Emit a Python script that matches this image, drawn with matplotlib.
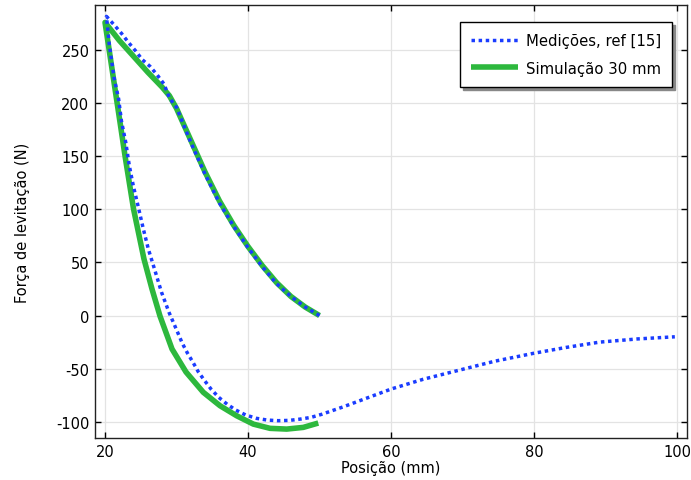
import matplotlib
matplotlib.use("Agg")
import matplotlib.pyplot as plt

plt.rcParams["axes.unicode_minus"] = False

# Measurements (ref [15]) – upper branch from 50 mm back to 20 mm, then lower branch out to 100 mm
meas_x = [50, 48, 46, 44, 42, 40, 38, 36, 34, 32, 30, 29, 28.25, 27.3, 26.3, 25.2, 24.3, 23.3, 22.3, 21.3, 20.2,
          20.6, 21.26, 21.9, 22.3, 22.9, 23.4, 23.96, 24.66, 25.36, 26.06, 27.0, 27.9, 28.95, 30.2,
          30.8, 31.5, 32.3, 33.05, 33.9, 34.8, 35.9, 37.1, 38.3, 39.7, 41.2, 42.7, 44.2, 45.8,
          47.3, 48.8, 50.3, 53.3, 56.5, 60.1, 64.5, 69.2, 74.5, 79.9, 84.5, 89.2, 94.5, 99.7]
meas_y = [0, 8, 18, 30, 46, 64, 84, 106, 133, 163, 196, 205, 218, 226.5, 234.6, 241, 249, 257, 265.7, 273.5, 281.7,
          255, 224, 204, 183, 163, 141, 122, 102, 81.5, 62.6, 42, 22, 3, -16.5,
          -26, -35, -44, -53, -61, -69, -77, -83.6, -89, -93.7, -96.8, -98.4, -99, -98.7,
          -97.5, -95.9, -93, -86, -78, -69, -60, -52, -43, -35.6, -30, -25, -22, -20]

# Simulation 30 mm – upper branch from 50 mm to 20 mm, then lower branch back to 50 mm
sim_x = [50, 48, 46, 44, 42, 40, 38, 36, 34, 32, 30, 29, 28, 26, 24, 22, 20,
         21.19, 22.24, 22.80, 23.99, 25.45, 26.57, 27.69, 29.37, 31.33, 33.75,
         36.08, 38.42, 40.74, 43.08, 45.41, 47.73, 49.83]
sim_y = [0, 8, 18, 31, 47, 65, 85, 108, 135, 165, 195, 207, 215, 229, 244, 259, 276,
         222.7, 175.6, 150.2, 100.3, 53.2, 25.0, -0.5, -31.5, -53.2, -72.3,
         -84.9, -94.4, -102.2, -106.2, -106.9, -105.3, -101.2]

labels = ["Medições, ref [15]", "Simulação 30 mm"]
xticks = [20, 40, 60, 80, 100]
yticks = [-100, -50, 0, 50, 100, 150, 200, 250]

blue = "#1a3cff"
green = "#2db83d"

fig = plt.figure(figsize=(6.91, 4.81), dpi=100)
ax = fig.add_axes([0.1375, 0.0873, 0.8567, 0.9002])

ax.plot(meas_x, meas_y, color=blue, lw=2.5, linestyle=(0, (1.0, 1.05)),
        dash_capstyle="butt", label=labels[0], zorder=3)
ax.plot(sim_x, sim_y, color=green, lw=4.0, label=labels[1], zorder=2,
        solid_joinstyle="round", solid_capstyle="butt")

ax.set_xlim(18.6, 101.4)
ax.set_ylim(-115.3, 292.4)
ax.set_xticks(xticks)
ax.set_yticks(yticks)
ax.grid(True, color="#e3e3e3", lw=0.9)
ax.set_axisbelow(True)
ax.tick_params(direction="in", length=4, width=1, top=True, right=True,
               labelsize=10.5, colors="black", pad=4)
for s in ax.spines.values():
    s.set_color("#222222")
    s.set_linewidth(1.0)

ax.set_xlabel("Posição (mm)", fontsize=10.5, labelpad=1)
ax.set_ylabel("Força de levitação (N)", fontsize=10.5, labelpad=19)

leg = ax.legend(loc="upper right", bbox_to_anchor=(0.975, 0.961), borderaxespad=0,
                fontsize=10.7, fancybox=False, shadow={"color": "#888888", "alpha": 1.0},
                framealpha=1, edgecolor="black", handlelength=3.2,
                borderpad=0.75, labelspacing=0.85, handletextpad=0.5)
leg.get_frame().set_linewidth(1.0)

fig.savefig("out.png", dpi=100)
